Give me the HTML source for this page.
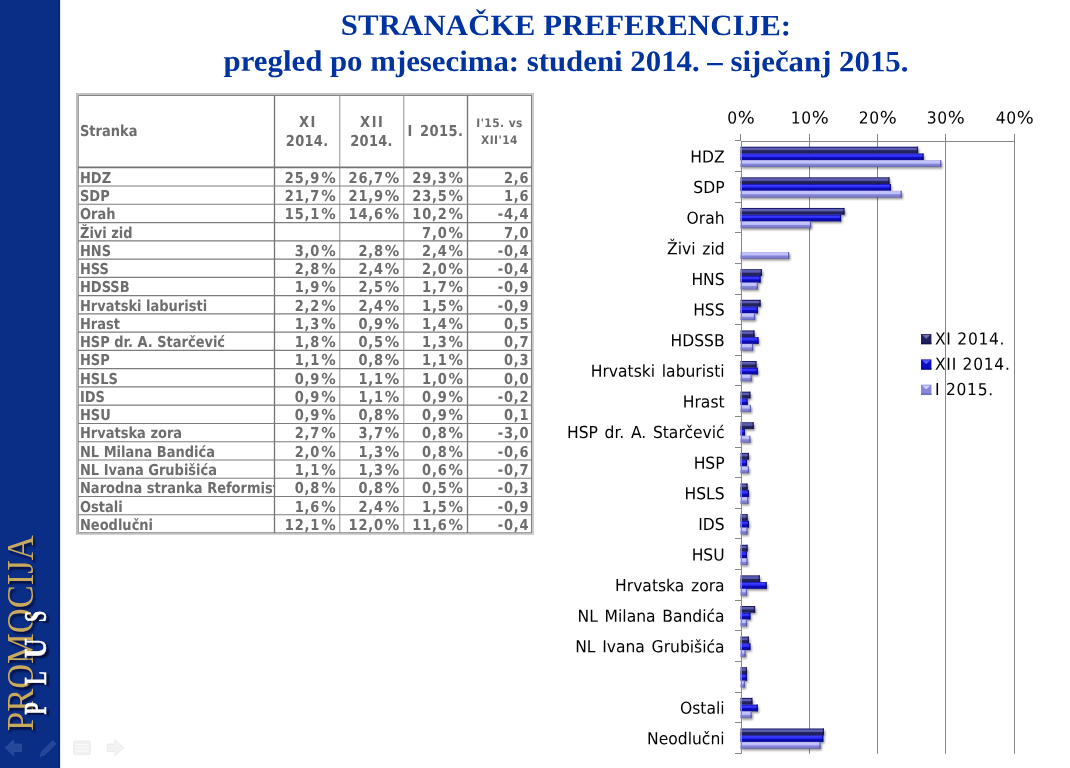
<!DOCTYPE html>
<html lang="hr"><head><meta charset="utf-8"><title>Stranačke preferencije</title>
<style>
html,body{margin:0;padding:0;}
body{width:1070px;height:768px;overflow:hidden;background:#fff;position:relative;font-family:"DejaVu Sans Condensed","DejaVu Sans","Liberation Sans",sans-serif;}
#side{position:absolute;left:0;top:0;width:60px;height:768px;background:#0a2d86;}
#sideedge{position:absolute;left:57px;top:0;width:3px;height:768px;background:linear-gradient(90deg,#0a2d86,#04257f 60%);}
.title{position:absolute;left:60px;width:1010px;text-align:center;font-family:"Liberation Serif","DejaVu Serif",serif;font-weight:bold;color:#0033a0;font-size:29.6px;white-space:nowrap;line-height:36px;transform:rotate(0.04deg) scaleX(1.041);transform-origin:50% 50%;}
#tbl{position:absolute;left:0;top:0;width:1070px;height:768px;font-family:"DejaVu Sans Condensed","DejaVu Sans","Liberation Sans",sans-serif;font-weight:bold;color:#6d6d6d;font-stretch:condensed;}
#tbl .ln{position:absolute;background:#858585;}
#tbl .c{position:absolute;white-space:nowrap;overflow:hidden;font-size:15px;line-height:18px;transform:rotate(0.04deg) scaleX(0.963);transform-origin:0 50%;}
#tbl .p{font-family:"DejaVu Sans","Liberation Sans",sans-serif;font-stretch:normal;margin-left:1px;letter-spacing:1.5px;}
#tbl .r{text-align:right;letter-spacing:0.85px;transform-origin:100% 50%;}
#tbl .h{text-align:center;font-size:15px;line-height:18.6px;transform-origin:50% 50%;}
#tbl .h2{text-align:center;font-size:11.8px;line-height:16.5px;letter-spacing:0.45px;transform:rotate(0.04deg);}
#logo1{position:absolute;left:0;top:0;transform-origin:0 0;white-space:nowrap;font-family:"Liberation Serif",serif;color:#c9a95c;font-size:37.5px;line-height:37.5px;text-shadow:-3px 2.5px 2px rgba(0,0,30,.6);}
#logo2{position:absolute;left:0;top:0;transform-origin:0 0;white-space:nowrap;font-family:"Liberation Serif",serif;font-weight:bold;color:#fff;font-size:31px;line-height:31px;-webkit-text-stroke:0.5px #fff;text-shadow:-3px 3px 2px rgba(0,0,30,.75);}
svg text{font-family:"DejaVu Sans Condensed","DejaVu Sans","Liberation Sans",sans-serif;font-stretch:condensed;}
svg tspan{font-stretch:normal;}
</style></head><body>
<div id="side"></div><div id="sideedge"></div><div style="position:absolute;left:60px;top:0;width:1px;height:768px;background:#e3e6f5"></div>
<div class="title" style="top:7.3px;padding-left:1px;letter-spacing:0.12px">STRANAČKE PREFERENCIJE:</div>
<div class="title" style="top:43.3px;padding-left:1px">pregled po mjesecima: studeni 2014. – siječanj 2015.</div>
<div id="logo1" style="transform:translate(1.75px,731px) rotate(-90deg) scale(0.92,1)">PROMOCIJA</div>
<div id="logo2" style="transform:translate(20.2px,714.5px) rotate(-90deg) scale(0.64,1);letter-spacing:27.5px">PL<span style="display:inline-block;transform:translateX(3px) scaleX(1.4)">U</span>S</div>
<svg style="position:absolute;left:0;top:732px" width="140" height="36" viewBox="0 732 140 36">
<g opacity="0.62">
<path d="M5.2 747.8 L13.7 739.8 L13.7 744 L21.6 744 L21.6 751.5 L13.7 751.5 L13.7 755.7 Z" fill="#3a58a6" stroke="#4d69b2" stroke-width="0.7"/>
<path d="M40 756.4 L41.6 751.6 L52.8 740.8 L56 744 L44.8 754.8 Z" fill="#3654a2" stroke="#4a66b0" stroke-width="0.7"/>
</g>
<rect x="73.5" y="741" width="17" height="13.6" rx="1.5" fill="#f0f0f0" stroke="#e8e8e8" stroke-width="0.8"/>
<path d="M75.5 744.6 H88.5 M75.5 747.8 H88.5 M75.5 751 H88.5" stroke="#fafafa" stroke-width="1.3"/>
<path d="M123.6 747.8 L115 739.8 L115 744 L107.3 744 L107.3 751.5 L115 751.5 L115 755.7 Z" fill="#f3f3f3" stroke="#e6e6e6" stroke-width="0.8"/>
</svg>
<div id="tbl">
<div style="position:absolute;left:76px;top:93px;width:458px;height:442px;box-sizing:border-box;border-style:solid;border-color:#c4c4c4 #cdcdcd #d2d2d2 #bcbcbc;border-width:2px 2px 2px 2px;"></div>
<svg style="position:absolute;left:0;top:0" width="560" height="560" viewBox="0 0 560 560"><line x1="78.0" y1="95.5" x2="532.0" y2="95.5" stroke="#858585" stroke-width="1"/><line x1="78.0" y1="532.75" x2="532.0" y2="532.75" stroke="#858585" stroke-width="1.1"/><line x1="78.50" y1="95" x2="78.50" y2="533.05" stroke="#a0a0a0" stroke-width="1.0"/><line x1="274.50" y1="95" x2="274.50" y2="533.05" stroke="#747474" stroke-width="1.3"/><line x1="339.80" y1="95" x2="339.80" y2="533.05" stroke="#929292" stroke-width="1.0"/><line x1="403.80" y1="95" x2="403.80" y2="533.05" stroke="#929292" stroke-width="1.0"/><line x1="467.50" y1="95" x2="467.50" y2="533.05" stroke="#747474" stroke-width="1.3"/><line x1="531.50" y1="95" x2="531.50" y2="533.05" stroke="#828282" stroke-width="1.1"/><line x1="78.0" y1="167.35" x2="532.0" y2="167.35" stroke="#747474" stroke-width="1.7"/><line x1="78.0" y1="186.01" x2="532.0" y2="186.01" stroke="#7c7c7c" stroke-width="1.15"/><line x1="78.0" y1="204.28" x2="532.0" y2="204.28" stroke="#7c7c7c" stroke-width="1.15"/><line x1="78.0" y1="222.55" x2="532.0" y2="222.55" stroke="#7c7c7c" stroke-width="1.15"/><line x1="78.0" y1="240.81" x2="532.0" y2="240.81" stroke="#7c7c7c" stroke-width="1.15"/><line x1="78.0" y1="259.07" x2="532.0" y2="259.07" stroke="#7c7c7c" stroke-width="1.15"/><line x1="78.0" y1="277.34" x2="532.0" y2="277.34" stroke="#7c7c7c" stroke-width="1.15"/><line x1="78.0" y1="295.61" x2="532.0" y2="295.61" stroke="#7c7c7c" stroke-width="1.15"/><line x1="78.0" y1="313.87" x2="532.0" y2="313.87" stroke="#7c7c7c" stroke-width="1.15"/><line x1="78.0" y1="332.13" x2="532.0" y2="332.13" stroke="#7c7c7c" stroke-width="1.15"/><line x1="78.0" y1="350.40" x2="532.0" y2="350.40" stroke="#7c7c7c" stroke-width="1.15"/><line x1="78.0" y1="368.67" x2="532.0" y2="368.67" stroke="#7c7c7c" stroke-width="1.15"/><line x1="78.0" y1="386.93" x2="532.0" y2="386.93" stroke="#7c7c7c" stroke-width="1.15"/><line x1="78.0" y1="405.19" x2="532.0" y2="405.19" stroke="#7c7c7c" stroke-width="1.15"/><line x1="78.0" y1="423.46" x2="532.0" y2="423.46" stroke="#7c7c7c" stroke-width="1.15"/><line x1="78.0" y1="441.73" x2="532.0" y2="441.73" stroke="#7c7c7c" stroke-width="1.15"/><line x1="78.0" y1="459.99" x2="532.0" y2="459.99" stroke="#7c7c7c" stroke-width="1.15"/><line x1="78.0" y1="478.25" x2="532.0" y2="478.25" stroke="#7c7c7c" stroke-width="1.15"/><line x1="78.0" y1="496.52" x2="532.0" y2="496.52" stroke="#7c7c7c" stroke-width="1.15"/><line x1="78.0" y1="514.79" x2="532.0" y2="514.79" stroke="#7c7c7c" stroke-width="1.15"/></svg>
<div class="c " style="left:80.0px;top:122.4px;width:194.0px;height:18.0px;">Stranka</div>
<div class="c h" style="left:275.0px;top:112.7px;width:64.3px;height:38.0px;"><span style="letter-spacing:1.6px;margin-left:1.6px">XI</span><br><span style="letter-spacing:0.3px">2014.</span></div>
<div class="c h" style="left:340.3px;top:112.7px;width:63.0px;height:38.0px;"><span style="letter-spacing:1.6px;margin-left:1.6px">XII</span><br><span style="letter-spacing:0.3px">2014.</span></div>
<div class="c h" style="left:404.3px;top:121.9px;width:62.7px;height:19.0px;letter-spacing:0.45px;word-spacing:2.5px;">I 2015.</div>
<div class="c h2" style="left:468.0px;top:114.8px;width:63.0px;height:33.0px;">I'15. vs<br>XII'14</div>
<div class="c " style="left:80.0px;top:168.7px;width:201.5px;height:18.0px;">HDZ</div>
<div class="c r" style="left:275.0px;top:168.7px;width:62.1px;height:18.0px;">25,9<span class="p">%</span></div>
<div class="c r" style="left:340.3px;top:168.7px;width:60.8px;height:18.0px;">26,7<span class="p">%</span></div>
<div class="c r" style="left:404.3px;top:168.7px;width:60.5px;height:18.0px;">29,3<span class="p">%</span></div>
<div class="c r" style="left:468.0px;top:168.7px;width:61.4px;height:18.0px;">2,6</div>
<div class="c " style="left:80.0px;top:187.0px;width:201.5px;height:18.0px;">SDP</div>
<div class="c r" style="left:275.0px;top:187.0px;width:62.1px;height:18.0px;">21,7<span class="p">%</span></div>
<div class="c r" style="left:340.3px;top:187.0px;width:60.8px;height:18.0px;">21,9<span class="p">%</span></div>
<div class="c r" style="left:404.3px;top:187.0px;width:60.5px;height:18.0px;">23,5<span class="p">%</span></div>
<div class="c r" style="left:468.0px;top:187.0px;width:61.4px;height:18.0px;">1,6</div>
<div class="c " style="left:80.0px;top:205.2px;width:201.5px;height:18.0px;">Orah</div>
<div class="c r" style="left:275.0px;top:205.2px;width:62.1px;height:18.0px;">15,1<span class="p">%</span></div>
<div class="c r" style="left:340.3px;top:205.2px;width:60.8px;height:18.0px;">14,6<span class="p">%</span></div>
<div class="c r" style="left:404.3px;top:205.2px;width:60.5px;height:18.0px;">10,2<span class="p">%</span></div>
<div class="c r" style="left:468.0px;top:205.2px;width:61.4px;height:18.0px;">-4,4</div>
<div class="c " style="left:80.0px;top:223.5px;width:201.5px;height:18.0px;">Živi zid</div>
<div class="c r" style="left:275.0px;top:223.5px;width:62.1px;height:18.0px;"></div>
<div class="c r" style="left:340.3px;top:223.5px;width:60.8px;height:18.0px;"></div>
<div class="c r" style="left:404.3px;top:223.5px;width:60.5px;height:18.0px;">7,0<span class="p">%</span></div>
<div class="c r" style="left:468.0px;top:223.5px;width:61.4px;height:18.0px;">7,0</div>
<div class="c " style="left:80.0px;top:241.8px;width:201.5px;height:18.0px;">HNS</div>
<div class="c r" style="left:275.0px;top:241.8px;width:62.1px;height:18.0px;">3,0<span class="p">%</span></div>
<div class="c r" style="left:340.3px;top:241.8px;width:60.8px;height:18.0px;">2,8<span class="p">%</span></div>
<div class="c r" style="left:404.3px;top:241.8px;width:60.5px;height:18.0px;">2,4<span class="p">%</span></div>
<div class="c r" style="left:468.0px;top:241.8px;width:61.4px;height:18.0px;">-0,4</div>
<div class="c " style="left:80.0px;top:260.0px;width:201.5px;height:18.0px;">HSS</div>
<div class="c r" style="left:275.0px;top:260.0px;width:62.1px;height:18.0px;">2,8<span class="p">%</span></div>
<div class="c r" style="left:340.3px;top:260.0px;width:60.8px;height:18.0px;">2,4<span class="p">%</span></div>
<div class="c r" style="left:404.3px;top:260.0px;width:60.5px;height:18.0px;">2,0<span class="p">%</span></div>
<div class="c r" style="left:468.0px;top:260.0px;width:61.4px;height:18.0px;">-0,4</div>
<div class="c " style="left:80.0px;top:278.3px;width:201.5px;height:18.0px;">HDSSB</div>
<div class="c r" style="left:275.0px;top:278.3px;width:62.1px;height:18.0px;">1,9<span class="p">%</span></div>
<div class="c r" style="left:340.3px;top:278.3px;width:60.8px;height:18.0px;">2,5<span class="p">%</span></div>
<div class="c r" style="left:404.3px;top:278.3px;width:60.5px;height:18.0px;">1,7<span class="p">%</span></div>
<div class="c r" style="left:468.0px;top:278.3px;width:61.4px;height:18.0px;">-0,9</div>
<div class="c " style="left:80.0px;top:296.6px;width:201.5px;height:18.0px;">Hrvatski laburisti</div>
<div class="c r" style="left:275.0px;top:296.6px;width:62.1px;height:18.0px;">2,2<span class="p">%</span></div>
<div class="c r" style="left:340.3px;top:296.6px;width:60.8px;height:18.0px;">2,4<span class="p">%</span></div>
<div class="c r" style="left:404.3px;top:296.6px;width:60.5px;height:18.0px;">1,5<span class="p">%</span></div>
<div class="c r" style="left:468.0px;top:296.6px;width:61.4px;height:18.0px;">-0,9</div>
<div class="c " style="left:80.0px;top:314.8px;width:201.5px;height:18.0px;">Hrast</div>
<div class="c r" style="left:275.0px;top:314.8px;width:62.1px;height:18.0px;">1,3<span class="p">%</span></div>
<div class="c r" style="left:340.3px;top:314.8px;width:60.8px;height:18.0px;">0,9<span class="p">%</span></div>
<div class="c r" style="left:404.3px;top:314.8px;width:60.5px;height:18.0px;">1,4<span class="p">%</span></div>
<div class="c r" style="left:468.0px;top:314.8px;width:61.4px;height:18.0px;">0,5</div>
<div class="c " style="left:80.0px;top:333.1px;width:201.5px;height:18.0px;">HSP dr. A. Starčević</div>
<div class="c r" style="left:275.0px;top:333.1px;width:62.1px;height:18.0px;">1,8<span class="p">%</span></div>
<div class="c r" style="left:340.3px;top:333.1px;width:60.8px;height:18.0px;">0,5<span class="p">%</span></div>
<div class="c r" style="left:404.3px;top:333.1px;width:60.5px;height:18.0px;">1,3<span class="p">%</span></div>
<div class="c r" style="left:468.0px;top:333.1px;width:61.4px;height:18.0px;">0,7</div>
<div class="c " style="left:80.0px;top:351.4px;width:201.5px;height:18.0px;">HSP</div>
<div class="c r" style="left:275.0px;top:351.4px;width:62.1px;height:18.0px;">1,1<span class="p">%</span></div>
<div class="c r" style="left:340.3px;top:351.4px;width:60.8px;height:18.0px;">0,8<span class="p">%</span></div>
<div class="c r" style="left:404.3px;top:351.4px;width:60.5px;height:18.0px;">1,1<span class="p">%</span></div>
<div class="c r" style="left:468.0px;top:351.4px;width:61.4px;height:18.0px;">0,3</div>
<div class="c " style="left:80.0px;top:369.6px;width:201.5px;height:18.0px;">HSLS</div>
<div class="c r" style="left:275.0px;top:369.6px;width:62.1px;height:18.0px;">0,9<span class="p">%</span></div>
<div class="c r" style="left:340.3px;top:369.6px;width:60.8px;height:18.0px;">1,1<span class="p">%</span></div>
<div class="c r" style="left:404.3px;top:369.6px;width:60.5px;height:18.0px;">1,0<span class="p">%</span></div>
<div class="c r" style="left:468.0px;top:369.6px;width:61.4px;height:18.0px;">0,0</div>
<div class="c " style="left:80.0px;top:387.9px;width:201.5px;height:18.0px;">IDS</div>
<div class="c r" style="left:275.0px;top:387.9px;width:62.1px;height:18.0px;">0,9<span class="p">%</span></div>
<div class="c r" style="left:340.3px;top:387.9px;width:60.8px;height:18.0px;">1,1<span class="p">%</span></div>
<div class="c r" style="left:404.3px;top:387.9px;width:60.5px;height:18.0px;">0,9<span class="p">%</span></div>
<div class="c r" style="left:468.0px;top:387.9px;width:61.4px;height:18.0px;">-0,2</div>
<div class="c " style="left:80.0px;top:406.1px;width:201.5px;height:18.0px;">HSU</div>
<div class="c r" style="left:275.0px;top:406.1px;width:62.1px;height:18.0px;">0,9<span class="p">%</span></div>
<div class="c r" style="left:340.3px;top:406.1px;width:60.8px;height:18.0px;">0,8<span class="p">%</span></div>
<div class="c r" style="left:404.3px;top:406.1px;width:60.5px;height:18.0px;">0,9<span class="p">%</span></div>
<div class="c r" style="left:468.0px;top:406.1px;width:61.4px;height:18.0px;">0,1</div>
<div class="c " style="left:80.0px;top:424.4px;width:201.5px;height:18.0px;">Hrvatska zora</div>
<div class="c r" style="left:275.0px;top:424.4px;width:62.1px;height:18.0px;">2,7<span class="p">%</span></div>
<div class="c r" style="left:340.3px;top:424.4px;width:60.8px;height:18.0px;">3,7<span class="p">%</span></div>
<div class="c r" style="left:404.3px;top:424.4px;width:60.5px;height:18.0px;">0,8<span class="p">%</span></div>
<div class="c r" style="left:468.0px;top:424.4px;width:61.4px;height:18.0px;">-3,0</div>
<div class="c " style="left:80.0px;top:442.7px;width:201.5px;height:18.0px;">NL Milana Bandića</div>
<div class="c r" style="left:275.0px;top:442.7px;width:62.1px;height:18.0px;">2,0<span class="p">%</span></div>
<div class="c r" style="left:340.3px;top:442.7px;width:60.8px;height:18.0px;">1,3<span class="p">%</span></div>
<div class="c r" style="left:404.3px;top:442.7px;width:60.5px;height:18.0px;">0,8<span class="p">%</span></div>
<div class="c r" style="left:468.0px;top:442.7px;width:61.4px;height:18.0px;">-0,6</div>
<div class="c " style="left:80.0px;top:460.9px;width:201.5px;height:18.0px;">NL Ivana Grubišića</div>
<div class="c r" style="left:275.0px;top:460.9px;width:62.1px;height:18.0px;">1,1<span class="p">%</span></div>
<div class="c r" style="left:340.3px;top:460.9px;width:60.8px;height:18.0px;">1,3<span class="p">%</span></div>
<div class="c r" style="left:404.3px;top:460.9px;width:60.5px;height:18.0px;">0,6<span class="p">%</span></div>
<div class="c r" style="left:468.0px;top:460.9px;width:61.4px;height:18.0px;">-0,7</div>
<div class="c " style="left:80.0px;top:479.2px;width:201.5px;height:18.0px;">Narodna stranka Reformisti</div>
<div class="c r" style="left:275.0px;top:479.2px;width:62.1px;height:18.0px;">0,8<span class="p">%</span></div>
<div class="c r" style="left:340.3px;top:479.2px;width:60.8px;height:18.0px;">0,8<span class="p">%</span></div>
<div class="c r" style="left:404.3px;top:479.2px;width:60.5px;height:18.0px;">0,5<span class="p">%</span></div>
<div class="c r" style="left:468.0px;top:479.2px;width:61.4px;height:18.0px;">-0,3</div>
<div class="c " style="left:80.0px;top:497.5px;width:201.5px;height:18.0px;">Ostali</div>
<div class="c r" style="left:275.0px;top:497.5px;width:62.1px;height:18.0px;">1,6<span class="p">%</span></div>
<div class="c r" style="left:340.3px;top:497.5px;width:60.8px;height:18.0px;">2,4<span class="p">%</span></div>
<div class="c r" style="left:404.3px;top:497.5px;width:60.5px;height:18.0px;">1,5<span class="p">%</span></div>
<div class="c r" style="left:468.0px;top:497.5px;width:61.4px;height:18.0px;">-0,9</div>
<div class="c " style="left:80.0px;top:515.7px;width:201.5px;height:18.0px;">Neodlučni</div>
<div class="c r" style="left:275.0px;top:515.7px;width:62.1px;height:18.0px;">12,1<span class="p">%</span></div>
<div class="c r" style="left:340.3px;top:515.7px;width:60.8px;height:18.0px;">12,0<span class="p">%</span></div>
<div class="c r" style="left:404.3px;top:515.7px;width:60.5px;height:18.0px;">11,6<span class="p">%</span></div>
<div class="c r" style="left:468.0px;top:515.7px;width:61.4px;height:18.0px;">-0,4</div>
</div>
<svg style="position:absolute;left:0;top:0" width="1070" height="768" viewBox="0 0 1070 768">
<defs>
<linearGradient id="g1" x1="0" y1="0" x2="0" y2="1"><stop offset="0" stop-color="#14146a"/><stop offset="0.1" stop-color="#1c1c72"/><stop offset="0.2" stop-color="#6464b4"/><stop offset="0.46" stop-color="#5858a8"/><stop offset="0.58" stop-color="#25255f"/><stop offset="1" stop-color="#1c1c56"/></linearGradient>
<linearGradient id="g2" x1="0" y1="0" x2="0" y2="1"><stop offset="0" stop-color="#1010b8"/><stop offset="0.1" stop-color="#1818c8"/><stop offset="0.2" stop-color="#3c3cff"/><stop offset="0.46" stop-color="#2c2cff"/><stop offset="0.58" stop-color="#0c0cbc"/><stop offset="1" stop-color="#0a0a9a"/></linearGradient>
<linearGradient id="g3" x1="0" y1="0" x2="0" y2="1"><stop offset="0" stop-color="#a4a4ec"/><stop offset="0.14" stop-color="#c6c6ff"/><stop offset="0.46" stop-color="#bcbcff"/><stop offset="0.58" stop-color="#8686d6"/><stop offset="0.86" stop-color="#7c7ccc"/><stop offset="1" stop-color="#5a5aae"/></linearGradient>
<filter id="sh" x="-10%" y="-50%" width="130%" height="250%"><feGaussianBlur stdDeviation="1.1"/></filter>
</defs>
<line x1="809.5" y1="134" x2="809.5" y2="753.8" stroke="#878787" stroke-width="1"/>
<line x1="877.5" y1="134" x2="877.5" y2="753.8" stroke="#878787" stroke-width="1"/>
<line x1="945.5" y1="134" x2="945.5" y2="753.8" stroke="#878787" stroke-width="1"/>
<line x1="1014.5" y1="134" x2="1014.5" y2="753.8" stroke="#878787" stroke-width="1"/>
<rect x="741.6" y="148.90" width="177.7" height="6.23" fill="#000" opacity="0.42" filter="url(#sh)"/><rect x="741.6" y="155.63" width="183.2" height="6.23" fill="#000" opacity="0.42" filter="url(#sh)"/><rect x="741.6" y="162.36" width="200.9" height="6.23" fill="#000" opacity="0.42" filter="url(#sh)"/><rect x="740.4" y="146.70" width="177.7" height="6.73" fill="url(#g1)"/><rect x="916.9" y="146.70" width="1.2" height="6.73" fill="#10103c" opacity="0.8"/><rect x="740.4" y="153.43" width="183.2" height="6.73" fill="url(#g2)"/><rect x="922.4" y="153.43" width="1.2" height="6.73" fill="#06066e" opacity="0.8"/><rect x="740.4" y="160.16" width="200.9" height="6.73" fill="url(#g3)"/><rect x="940.1" y="160.16" width="1.2" height="6.73" fill="#4c4ca4" opacity="0.8"/>
<rect x="741.6" y="179.52" width="149.1" height="6.23" fill="#000" opacity="0.42" filter="url(#sh)"/><rect x="741.6" y="186.25" width="150.5" height="6.23" fill="#000" opacity="0.42" filter="url(#sh)"/><rect x="741.6" y="192.98" width="161.4" height="6.23" fill="#000" opacity="0.42" filter="url(#sh)"/><rect x="740.4" y="177.32" width="149.1" height="6.73" fill="url(#g1)"/><rect x="888.3" y="177.32" width="1.2" height="6.73" fill="#10103c" opacity="0.8"/><rect x="740.4" y="184.05" width="150.5" height="6.73" fill="url(#g2)"/><rect x="889.7" y="184.05" width="1.2" height="6.73" fill="#06066e" opacity="0.8"/><rect x="740.4" y="190.78" width="161.4" height="6.73" fill="url(#g3)"/><rect x="900.6" y="190.78" width="1.2" height="6.73" fill="#4c4ca4" opacity="0.8"/>
<rect x="741.6" y="210.14" width="104.1" height="6.23" fill="#000" opacity="0.42" filter="url(#sh)"/><rect x="741.6" y="216.87" width="100.7" height="6.23" fill="#000" opacity="0.42" filter="url(#sh)"/><rect x="741.6" y="223.60" width="70.7" height="6.23" fill="#000" opacity="0.42" filter="url(#sh)"/><rect x="740.4" y="207.94" width="104.1" height="6.73" fill="url(#g1)"/><rect x="843.3" y="207.94" width="1.2" height="6.73" fill="#10103c" opacity="0.8"/><rect x="740.4" y="214.67" width="100.7" height="6.73" fill="url(#g2)"/><rect x="839.9" y="214.67" width="1.2" height="6.73" fill="#06066e" opacity="0.8"/><rect x="740.4" y="221.40" width="70.7" height="6.73" fill="url(#g3)"/><rect x="809.9" y="221.40" width="1.2" height="6.73" fill="#4c4ca4" opacity="0.8"/>
<rect x="741.6" y="254.22" width="48.8" height="6.23" fill="#000" opacity="0.42" filter="url(#sh)"/><rect x="740.4" y="252.02" width="48.8" height="6.73" fill="url(#g3)"/><rect x="788.0" y="252.02" width="1.2" height="6.73" fill="#4c4ca4" opacity="0.8"/>
<rect x="741.6" y="271.38" width="21.6" height="6.23" fill="#000" opacity="0.42" filter="url(#sh)"/><rect x="741.6" y="278.11" width="20.2" height="6.23" fill="#000" opacity="0.42" filter="url(#sh)"/><rect x="741.6" y="284.84" width="17.5" height="6.23" fill="#000" opacity="0.42" filter="url(#sh)"/><rect x="740.4" y="269.18" width="21.6" height="6.73" fill="url(#g1)"/><rect x="760.8" y="269.18" width="1.2" height="6.73" fill="#10103c" opacity="0.8"/><rect x="740.4" y="275.91" width="20.2" height="6.73" fill="url(#g2)"/><rect x="759.4" y="275.91" width="1.2" height="6.73" fill="#06066e" opacity="0.8"/><rect x="740.4" y="282.64" width="17.5" height="6.73" fill="url(#g3)"/><rect x="756.7" y="282.64" width="1.2" height="6.73" fill="#4c4ca4" opacity="0.8"/>
<rect x="741.6" y="302.00" width="20.2" height="6.23" fill="#000" opacity="0.42" filter="url(#sh)"/><rect x="741.6" y="308.73" width="17.5" height="6.23" fill="#000" opacity="0.42" filter="url(#sh)"/><rect x="741.6" y="315.46" width="14.7" height="6.23" fill="#000" opacity="0.42" filter="url(#sh)"/><rect x="740.4" y="299.80" width="20.2" height="6.73" fill="url(#g1)"/><rect x="759.4" y="299.80" width="1.2" height="6.73" fill="#10103c" opacity="0.8"/><rect x="740.4" y="306.53" width="17.5" height="6.73" fill="url(#g2)"/><rect x="756.7" y="306.53" width="1.2" height="6.73" fill="#06066e" opacity="0.8"/><rect x="740.4" y="313.26" width="14.7" height="6.73" fill="url(#g3)"/><rect x="753.9" y="313.26" width="1.2" height="6.73" fill="#4c4ca4" opacity="0.8"/>
<rect x="741.6" y="332.62" width="14.1" height="6.23" fill="#000" opacity="0.42" filter="url(#sh)"/><rect x="741.6" y="339.35" width="18.2" height="6.23" fill="#000" opacity="0.42" filter="url(#sh)"/><rect x="741.6" y="346.08" width="12.7" height="6.23" fill="#000" opacity="0.42" filter="url(#sh)"/><rect x="740.4" y="330.42" width="14.1" height="6.73" fill="url(#g1)"/><rect x="753.3" y="330.42" width="1.2" height="6.73" fill="#10103c" opacity="0.8"/><rect x="740.4" y="337.15" width="18.2" height="6.73" fill="url(#g2)"/><rect x="757.3" y="337.15" width="1.2" height="6.73" fill="#06066e" opacity="0.8"/><rect x="740.4" y="343.88" width="12.7" height="6.73" fill="url(#g3)"/><rect x="751.9" y="343.88" width="1.2" height="6.73" fill="#4c4ca4" opacity="0.8"/>
<rect x="741.6" y="363.24" width="16.1" height="6.23" fill="#000" opacity="0.42" filter="url(#sh)"/><rect x="741.6" y="369.97" width="17.5" height="6.23" fill="#000" opacity="0.42" filter="url(#sh)"/><rect x="741.6" y="376.70" width="11.3" height="6.23" fill="#000" opacity="0.42" filter="url(#sh)"/><rect x="740.4" y="361.04" width="16.1" height="6.73" fill="url(#g1)"/><rect x="755.3" y="361.04" width="1.2" height="6.73" fill="#10103c" opacity="0.8"/><rect x="740.4" y="367.77" width="17.5" height="6.73" fill="url(#g2)"/><rect x="756.7" y="367.77" width="1.2" height="6.73" fill="#06066e" opacity="0.8"/><rect x="740.4" y="374.50" width="11.3" height="6.73" fill="url(#g3)"/><rect x="750.5" y="374.50" width="1.2" height="6.73" fill="#4c4ca4" opacity="0.8"/>
<rect x="741.6" y="393.86" width="10.0" height="6.23" fill="#000" opacity="0.42" filter="url(#sh)"/><rect x="741.6" y="400.59" width="7.2" height="6.23" fill="#000" opacity="0.42" filter="url(#sh)"/><rect x="741.6" y="407.32" width="10.6" height="6.23" fill="#000" opacity="0.42" filter="url(#sh)"/><rect x="740.4" y="391.66" width="10.0" height="6.73" fill="url(#g1)"/><rect x="749.2" y="391.66" width="1.2" height="6.73" fill="#10103c" opacity="0.8"/><rect x="740.4" y="398.39" width="7.2" height="6.73" fill="url(#g2)"/><rect x="746.4" y="398.39" width="1.2" height="6.73" fill="#06066e" opacity="0.8"/><rect x="740.4" y="405.12" width="10.6" height="6.73" fill="url(#g3)"/><rect x="749.8" y="405.12" width="1.2" height="6.73" fill="#4c4ca4" opacity="0.8"/>
<rect x="741.6" y="424.48" width="13.4" height="6.23" fill="#000" opacity="0.42" filter="url(#sh)"/><rect x="741.6" y="431.21" width="4.5" height="6.23" fill="#000" opacity="0.42" filter="url(#sh)"/><rect x="741.6" y="437.94" width="10.0" height="6.23" fill="#000" opacity="0.42" filter="url(#sh)"/><rect x="740.4" y="422.28" width="13.4" height="6.73" fill="url(#g1)"/><rect x="752.6" y="422.28" width="1.2" height="6.73" fill="#10103c" opacity="0.8"/><rect x="740.4" y="429.01" width="4.5" height="6.73" fill="url(#g2)"/><rect x="743.7" y="429.01" width="1.2" height="6.73" fill="#06066e" opacity="0.8"/><rect x="740.4" y="435.74" width="10.0" height="6.73" fill="url(#g3)"/><rect x="749.2" y="435.74" width="1.2" height="6.73" fill="#4c4ca4" opacity="0.8"/>
<rect x="741.6" y="455.10" width="8.6" height="6.23" fill="#000" opacity="0.42" filter="url(#sh)"/><rect x="741.6" y="461.83" width="6.6" height="6.23" fill="#000" opacity="0.42" filter="url(#sh)"/><rect x="741.6" y="468.56" width="8.6" height="6.23" fill="#000" opacity="0.42" filter="url(#sh)"/><rect x="740.4" y="452.90" width="8.6" height="6.73" fill="url(#g1)"/><rect x="747.8" y="452.90" width="1.2" height="6.73" fill="#10103c" opacity="0.8"/><rect x="740.4" y="459.63" width="6.6" height="6.73" fill="url(#g2)"/><rect x="745.8" y="459.63" width="1.2" height="6.73" fill="#06066e" opacity="0.8"/><rect x="740.4" y="466.36" width="8.6" height="6.73" fill="url(#g3)"/><rect x="747.8" y="466.36" width="1.2" height="6.73" fill="#4c4ca4" opacity="0.8"/>
<rect x="741.6" y="485.72" width="7.2" height="6.23" fill="#000" opacity="0.42" filter="url(#sh)"/><rect x="741.6" y="492.45" width="8.6" height="6.23" fill="#000" opacity="0.42" filter="url(#sh)"/><rect x="741.6" y="499.18" width="7.9" height="6.23" fill="#000" opacity="0.42" filter="url(#sh)"/><rect x="740.4" y="483.52" width="7.2" height="6.73" fill="url(#g1)"/><rect x="746.4" y="483.52" width="1.2" height="6.73" fill="#10103c" opacity="0.8"/><rect x="740.4" y="490.25" width="8.6" height="6.73" fill="url(#g2)"/><rect x="747.8" y="490.25" width="1.2" height="6.73" fill="#06066e" opacity="0.8"/><rect x="740.4" y="496.98" width="7.9" height="6.73" fill="url(#g3)"/><rect x="747.1" y="496.98" width="1.2" height="6.73" fill="#4c4ca4" opacity="0.8"/>
<rect x="741.6" y="516.34" width="7.2" height="6.23" fill="#000" opacity="0.42" filter="url(#sh)"/><rect x="741.6" y="523.07" width="8.6" height="6.23" fill="#000" opacity="0.42" filter="url(#sh)"/><rect x="741.6" y="529.80" width="7.2" height="6.23" fill="#000" opacity="0.42" filter="url(#sh)"/><rect x="740.4" y="514.14" width="7.2" height="6.73" fill="url(#g1)"/><rect x="746.4" y="514.14" width="1.2" height="6.73" fill="#10103c" opacity="0.8"/><rect x="740.4" y="520.87" width="8.6" height="6.73" fill="url(#g2)"/><rect x="747.8" y="520.87" width="1.2" height="6.73" fill="#06066e" opacity="0.8"/><rect x="740.4" y="527.60" width="7.2" height="6.73" fill="url(#g3)"/><rect x="746.4" y="527.60" width="1.2" height="6.73" fill="#4c4ca4" opacity="0.8"/>
<rect x="741.6" y="546.96" width="7.2" height="6.23" fill="#000" opacity="0.42" filter="url(#sh)"/><rect x="741.6" y="553.69" width="6.6" height="6.23" fill="#000" opacity="0.42" filter="url(#sh)"/><rect x="741.6" y="560.42" width="7.2" height="6.23" fill="#000" opacity="0.42" filter="url(#sh)"/><rect x="740.4" y="544.76" width="7.2" height="6.73" fill="url(#g1)"/><rect x="746.4" y="544.76" width="1.2" height="6.73" fill="#10103c" opacity="0.8"/><rect x="740.4" y="551.49" width="6.6" height="6.73" fill="url(#g2)"/><rect x="745.8" y="551.49" width="1.2" height="6.73" fill="#06066e" opacity="0.8"/><rect x="740.4" y="558.22" width="7.2" height="6.73" fill="url(#g3)"/><rect x="746.4" y="558.22" width="1.2" height="6.73" fill="#4c4ca4" opacity="0.8"/>
<rect x="741.6" y="577.58" width="19.5" height="6.23" fill="#000" opacity="0.42" filter="url(#sh)"/><rect x="741.6" y="584.31" width="26.3" height="6.23" fill="#000" opacity="0.42" filter="url(#sh)"/><rect x="741.6" y="591.04" width="6.6" height="6.23" fill="#000" opacity="0.42" filter="url(#sh)"/><rect x="740.4" y="575.38" width="19.5" height="6.73" fill="url(#g1)"/><rect x="758.7" y="575.38" width="1.2" height="6.73" fill="#10103c" opacity="0.8"/><rect x="740.4" y="582.11" width="26.3" height="6.73" fill="url(#g2)"/><rect x="765.5" y="582.11" width="1.2" height="6.73" fill="#06066e" opacity="0.8"/><rect x="740.4" y="588.84" width="6.6" height="6.73" fill="url(#g3)"/><rect x="745.8" y="588.84" width="1.2" height="6.73" fill="#4c4ca4" opacity="0.8"/>
<rect x="741.6" y="608.20" width="14.7" height="6.23" fill="#000" opacity="0.42" filter="url(#sh)"/><rect x="741.6" y="614.93" width="10.0" height="6.23" fill="#000" opacity="0.42" filter="url(#sh)"/><rect x="741.6" y="621.66" width="6.6" height="6.23" fill="#000" opacity="0.42" filter="url(#sh)"/><rect x="740.4" y="606.00" width="14.7" height="6.73" fill="url(#g1)"/><rect x="753.9" y="606.00" width="1.2" height="6.73" fill="#10103c" opacity="0.8"/><rect x="740.4" y="612.73" width="10.0" height="6.73" fill="url(#g2)"/><rect x="749.2" y="612.73" width="1.2" height="6.73" fill="#06066e" opacity="0.8"/><rect x="740.4" y="619.46" width="6.6" height="6.73" fill="url(#g3)"/><rect x="745.8" y="619.46" width="1.2" height="6.73" fill="#4c4ca4" opacity="0.8"/>
<rect x="741.6" y="638.82" width="8.6" height="6.23" fill="#000" opacity="0.42" filter="url(#sh)"/><rect x="741.6" y="645.55" width="10.0" height="6.23" fill="#000" opacity="0.42" filter="url(#sh)"/><rect x="741.6" y="652.28" width="5.2" height="6.23" fill="#000" opacity="0.42" filter="url(#sh)"/><rect x="740.4" y="636.62" width="8.6" height="6.73" fill="url(#g1)"/><rect x="747.8" y="636.62" width="1.2" height="6.73" fill="#10103c" opacity="0.8"/><rect x="740.4" y="643.35" width="10.0" height="6.73" fill="url(#g2)"/><rect x="749.2" y="643.35" width="1.2" height="6.73" fill="#06066e" opacity="0.8"/><rect x="740.4" y="650.08" width="5.2" height="6.73" fill="url(#g3)"/><rect x="744.4" y="650.08" width="1.2" height="6.73" fill="#4c4ca4" opacity="0.8"/>
<rect x="741.6" y="669.44" width="6.6" height="6.23" fill="#000" opacity="0.42" filter="url(#sh)"/><rect x="741.6" y="676.17" width="6.6" height="6.23" fill="#000" opacity="0.42" filter="url(#sh)"/><rect x="741.6" y="682.90" width="4.5" height="6.23" fill="#000" opacity="0.42" filter="url(#sh)"/><rect x="740.4" y="667.24" width="6.6" height="6.73" fill="url(#g1)"/><rect x="745.8" y="667.24" width="1.2" height="6.73" fill="#10103c" opacity="0.8"/><rect x="740.4" y="673.97" width="6.6" height="6.73" fill="url(#g2)"/><rect x="745.8" y="673.97" width="1.2" height="6.73" fill="#06066e" opacity="0.8"/><rect x="740.4" y="680.70" width="4.5" height="6.73" fill="url(#g3)"/><rect x="743.7" y="680.70" width="1.2" height="6.73" fill="#4c4ca4" opacity="0.8"/>
<rect x="741.6" y="700.06" width="12.0" height="6.23" fill="#000" opacity="0.42" filter="url(#sh)"/><rect x="741.6" y="706.79" width="17.5" height="6.23" fill="#000" opacity="0.42" filter="url(#sh)"/><rect x="741.6" y="713.52" width="11.3" height="6.23" fill="#000" opacity="0.42" filter="url(#sh)"/><rect x="740.4" y="697.86" width="12.0" height="6.73" fill="url(#g1)"/><rect x="751.2" y="697.86" width="1.2" height="6.73" fill="#10103c" opacity="0.8"/><rect x="740.4" y="704.59" width="17.5" height="6.73" fill="url(#g2)"/><rect x="756.7" y="704.59" width="1.2" height="6.73" fill="#06066e" opacity="0.8"/><rect x="740.4" y="711.32" width="11.3" height="6.73" fill="url(#g3)"/><rect x="750.5" y="711.32" width="1.2" height="6.73" fill="#4c4ca4" opacity="0.8"/>
<rect x="741.6" y="730.68" width="83.6" height="6.23" fill="#000" opacity="0.42" filter="url(#sh)"/><rect x="741.6" y="737.41" width="82.9" height="6.23" fill="#000" opacity="0.42" filter="url(#sh)"/><rect x="741.6" y="744.14" width="80.2" height="6.23" fill="#000" opacity="0.42" filter="url(#sh)"/><rect x="740.4" y="728.48" width="83.6" height="6.73" fill="url(#g1)"/><rect x="822.8" y="728.48" width="1.2" height="6.73" fill="#10103c" opacity="0.8"/><rect x="740.4" y="735.21" width="82.9" height="6.73" fill="url(#g2)"/><rect x="822.1" y="735.21" width="1.2" height="6.73" fill="#06066e" opacity="0.8"/><rect x="740.4" y="741.94" width="80.2" height="6.73" fill="url(#g3)"/><rect x="819.4" y="741.94" width="1.2" height="6.73" fill="#4c4ca4" opacity="0.8"/>
<line x1="741.5" y1="141" x2="741.5" y2="753.8" stroke="#878787" stroke-width="1"/>
<line x1="741" y1="141.5" x2="1015" y2="141.5" stroke="#878787" stroke-width="1"/>
<line x1="740.5" y1="134" x2="740.5" y2="141" stroke="#878787" stroke-width="1"/>
<line x1="735" y1="140.5" x2="741" y2="140.5" stroke="#878787" stroke-width="1"/><line x1="735" y1="171.5" x2="741" y2="171.5" stroke="#878787" stroke-width="1"/><line x1="735" y1="202.5" x2="741" y2="202.5" stroke="#878787" stroke-width="1"/><line x1="735" y1="232.5" x2="741" y2="232.5" stroke="#878787" stroke-width="1"/><line x1="735" y1="263.5" x2="741" y2="263.5" stroke="#878787" stroke-width="1"/><line x1="735" y1="294.5" x2="741" y2="294.5" stroke="#878787" stroke-width="1"/><line x1="735" y1="324.5" x2="741" y2="324.5" stroke="#878787" stroke-width="1"/><line x1="735" y1="355.5" x2="741" y2="355.5" stroke="#878787" stroke-width="1"/><line x1="735" y1="385.5" x2="741" y2="385.5" stroke="#878787" stroke-width="1"/><line x1="735" y1="416.5" x2="741" y2="416.5" stroke="#878787" stroke-width="1"/><line x1="735" y1="447.5" x2="741" y2="447.5" stroke="#878787" stroke-width="1"/><line x1="735" y1="477.5" x2="741" y2="477.5" stroke="#878787" stroke-width="1"/><line x1="735" y1="508.5" x2="741" y2="508.5" stroke="#878787" stroke-width="1"/><line x1="735" y1="538.5" x2="741" y2="538.5" stroke="#878787" stroke-width="1"/><line x1="735" y1="569.5" x2="741" y2="569.5" stroke="#878787" stroke-width="1"/><line x1="735" y1="600.5" x2="741" y2="600.5" stroke="#878787" stroke-width="1"/><line x1="735" y1="630.5" x2="741" y2="630.5" stroke="#878787" stroke-width="1"/><line x1="735" y1="661.5" x2="741" y2="661.5" stroke="#878787" stroke-width="1"/><line x1="735" y1="692.5" x2="741" y2="692.5" stroke="#878787" stroke-width="1"/><line x1="735" y1="722.5" x2="741" y2="722.5" stroke="#878787" stroke-width="1"/><line x1="735" y1="753.5" x2="741" y2="753.5" stroke="#878787" stroke-width="1"/>
<text transform="translate(741.3,123.4) rotate(0.04) scale(1.04,1)" font-size="16.6" letter-spacing="0.5" text-anchor="middle" fill="#000">0<tspan font-family="DejaVu Sans, Liberation Sans, sans-serif" font-size="17.2" dx="0">%</tspan></text><text transform="translate(810.0,123.4) rotate(0.04) scale(1.04,1)" font-size="16.6" letter-spacing="0.5" text-anchor="middle" fill="#000">10<tspan font-family="DejaVu Sans, Liberation Sans, sans-serif" font-size="17.2" dx="0">%</tspan></text><text transform="translate(878.0,123.4) rotate(0.04) scale(1.04,1)" font-size="16.6" letter-spacing="0.5" text-anchor="middle" fill="#000">20<tspan font-family="DejaVu Sans, Liberation Sans, sans-serif" font-size="17.2" dx="0">%</tspan></text><text transform="translate(946.0,123.4) rotate(0.04) scale(1.04,1)" font-size="16.6" letter-spacing="0.5" text-anchor="middle" fill="#000">30<tspan font-family="DejaVu Sans, Liberation Sans, sans-serif" font-size="17.2" dx="0">%</tspan></text><text transform="translate(1015.0,123.4) rotate(0.04) scale(1.04,1)" font-size="16.6" letter-spacing="0.5" text-anchor="middle" fill="#000">40<tspan font-family="DejaVu Sans, Liberation Sans, sans-serif" font-size="17.2" dx="0">%</tspan></text>
<text transform="translate(724.6,162.5) rotate(0.04) scale(1.042,1)" font-size="16.6" word-spacing="1.7" text-anchor="end" fill="#000">HDZ</text>
<text transform="translate(724.6,193.1) rotate(0.04) scale(1.042,1)" font-size="16.6" word-spacing="1.7" text-anchor="end" fill="#000">SDP</text>
<text transform="translate(724.6,223.7) rotate(0.04) scale(1.042,1)" font-size="16.6" word-spacing="1.7" text-anchor="end" fill="#000">Orah</text>
<text transform="translate(724.6,254.4) rotate(0.04) scale(1.042,1)" font-size="16.6" word-spacing="1.7" text-anchor="end" fill="#000">Živi zid</text>
<text transform="translate(724.6,285.0) rotate(0.04) scale(1.042,1)" font-size="16.6" word-spacing="1.7" text-anchor="end" fill="#000">HNS</text>
<text transform="translate(724.6,315.6) rotate(0.04) scale(1.042,1)" font-size="16.6" word-spacing="1.7" text-anchor="end" fill="#000">HSS</text>
<text transform="translate(724.6,346.2) rotate(0.04) scale(1.042,1)" font-size="16.6" word-spacing="1.7" text-anchor="end" fill="#000">HDSSB</text>
<text transform="translate(724.6,376.8) rotate(0.04) scale(1.042,1)" font-size="16.6" word-spacing="1.7" text-anchor="end" fill="#000">Hrvatski laburisti</text>
<text transform="translate(724.6,407.5) rotate(0.04) scale(1.042,1)" font-size="16.6" word-spacing="1.7" text-anchor="end" fill="#000">Hrast</text>
<text transform="translate(724.6,438.1) rotate(0.04) scale(1.042,1)" font-size="16.6" word-spacing="1.7" text-anchor="end" fill="#000">HSP dr. A. Starčević</text>
<text transform="translate(724.6,468.7) rotate(0.04) scale(1.042,1)" font-size="16.6" word-spacing="1.7" text-anchor="end" fill="#000">HSP</text>
<text transform="translate(724.6,499.3) rotate(0.04) scale(1.042,1)" font-size="16.6" word-spacing="1.7" text-anchor="end" fill="#000">HSLS</text>
<text transform="translate(724.6,529.9) rotate(0.04) scale(1.042,1)" font-size="16.6" word-spacing="1.7" text-anchor="end" fill="#000">IDS</text>
<text transform="translate(724.6,560.6) rotate(0.04) scale(1.042,1)" font-size="16.6" word-spacing="1.7" text-anchor="end" fill="#000">HSU</text>
<text transform="translate(724.6,591.2) rotate(0.04) scale(1.042,1)" font-size="16.6" word-spacing="1.7" text-anchor="end" fill="#000">Hrvatska zora</text>
<text transform="translate(724.6,621.8) rotate(0.04) scale(1.042,1)" font-size="16.6" word-spacing="1.7" text-anchor="end" fill="#000">NL Milana Bandića</text>
<text transform="translate(724.6,652.4) rotate(0.04) scale(1.042,1)" font-size="16.6" word-spacing="1.7" text-anchor="end" fill="#000">NL Ivana Grubišića</text>
<text transform="translate(724.6,713.7) rotate(0.04) scale(1.042,1)" font-size="16.6" word-spacing="1.7" text-anchor="end" fill="#000">Ostali</text>
<text transform="translate(724.6,744.3) rotate(0.04) scale(1.042,1)" font-size="16.6" word-spacing="1.7" text-anchor="end" fill="#000">Neodlučni</text>
<rect x="921" y="334.0" width="10.4" height="10.2" fill="#1e1e60"/><rect x="921" y="342.6" width="10.4" height="1.6" fill="#15154a"/><path d="M922 334.8 h8.4 l-4.2 4 z" fill="#7878b8" opacity="0.9"/><text transform="translate(935,344.4) rotate(0.04) scale(1.036,1)" font-size="16.6" letter-spacing="0.72" fill="#000">XI 2014.</text>
<rect x="921" y="359.4" width="10.4" height="10.2" fill="#0c0cc8"/><rect x="921" y="368.0" width="10.4" height="1.6" fill="#0808a0"/><path d="M922 360.2 h8.4 l-4.2 4 z" fill="#6464ff" opacity="0.9"/><text transform="translate(935,369.8) rotate(0.04) scale(1.036,1)" font-size="16.6" letter-spacing="0.72" fill="#000">XII 2014.</text>
<rect x="921" y="384.7" width="10.4" height="10.2" fill="#8686da"/><rect x="921" y="393.3" width="10.4" height="1.6" fill="#6a6ac4"/><path d="M922 385.5 h8.4 l-4.2 4 z" fill="#d6d6ff" opacity="0.9"/><text transform="translate(935,395.1) rotate(0.04) scale(1.036,1)" font-size="16.6" letter-spacing="0.72" fill="#000">I 2015.</text>
</svg>
</body></html>
